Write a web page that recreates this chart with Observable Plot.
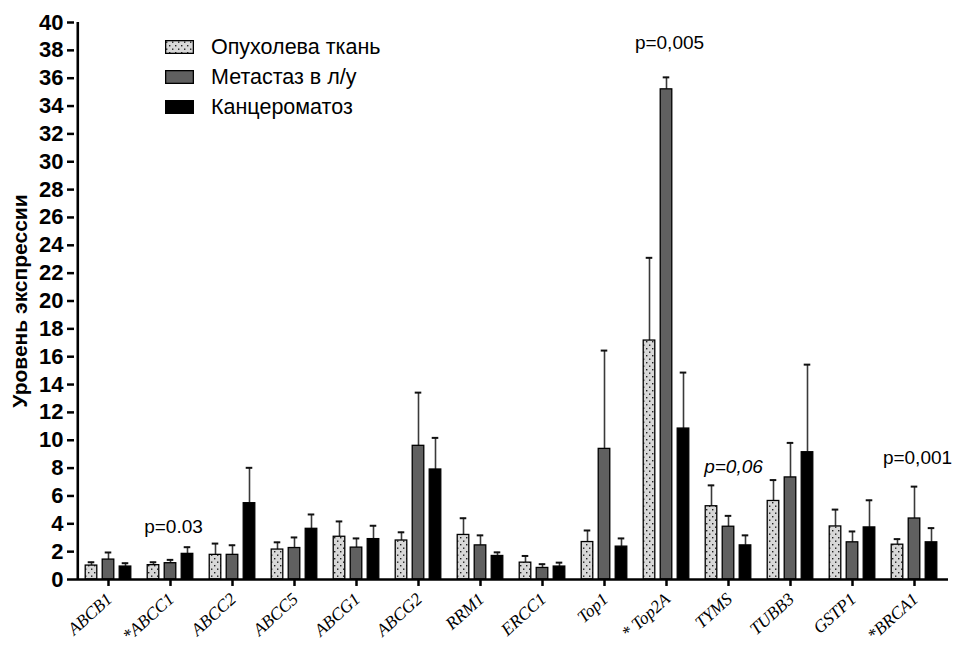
<!DOCTYPE html>
<html><head><meta charset="utf-8">
<script src="https://cdn.jsdelivr.net/npm/d3@7"></script>
<script src="https://cdn.jsdelivr.net/npm/@observablehq/plot@0.6"></script>
<style>
body{margin:0;background:#fff;}
#wrap{position:relative;width:954px;height:645px;overflow:hidden;}
#legend{position:absolute;left:165px;top:32px;font-family:Arial,"Liberation Sans",sans-serif;font-size:21.5px;color:#000;}
.row{display:flex;align-items:center;height:30px;}
.row svg{margin-right:17px;display:block;}
</style></head><body>
<div id="wrap"><div id="chart"></div><div id="legend"></div></div>
<script>
// ---- data ----
const genes = ["ABCB1","*ABCC1","ABCC2","ABCC5","ABCG1","ABCG2","RRM1","ERCC1","Top1","* Top2A","TYMS","TUBB3","GSTP1","*BRCA1"];
const seriesNames = ["Опухолева ткань","Метастаз в л/у","Канцероматоз"];
const tumorMean = [1.0,1.03,1.77,2.15,3.07,2.8,3.2,1.21,2.69,17.16,5.26,5.64,3.81,2.5];
const tumorErr  = [0.24,0.21,0.81,0.52,1.1,0.59,1.2,0.48,0.83,5.94,1.5,1.5,1.21,0.4];
const metMean   = [1.43,1.17,1.77,2.26,2.29,9.6,2.45,0.83,9.38,35.2,3.79,7.33,2.67,4.38];
const metErr    = [0.51,0.24,0.69,0.76,0.66,3.82,0.72,0.27,7.06,0.86,0.78,2.48,0.78,2.29];
const cancMean  = [0.93,1.84,5.48,3.64,2.9,7.9,1.69,0.93,2.36,10.84,2.45,9.14,3.74,2.67];
const cancErr   = [0.24,0.48,2.54,1.03,0.96,2.27,0.26,0.28,0.59,4.02,0.72,6.29,1.95,1.02];
const yTicks = d3.range(0, 41, 2);
const pLabels = ["p=0.03","p=0,005","p=0,06","p=0,001"];
const pGenes  = ["*ABCC1","* Top2A","TYMS","*BRCA1"];
const pValues = [3.8, 38.5, 8.1, 8.7];
const pItalic = [false, false, true, false];
const yLabel = "Уровень экспрессии";

// ---- styling ----
const fills = ["url(#dots)", "#606060", "#000000"];
const marginLeft = 74, marginRight = 6, width = 954;
const bw = (width - marginLeft - marginRight) / genes.length;
const offsets = [-17, 0, 17];
const barW = 12, capW = 7;
const sans = "Arial, 'Liberation Sans', sans-serif";
const serif = "'Liberation Serif', 'Times New Roman', serif";

const allMeans = [tumorMean, metMean, cancMean];
const allErrs = [tumorErr, metErr, cancErr];

const marks = [];
allMeans.forEach((means, k) => {
  const rows = genes.map((g, i) => ({gene: g, mean: means[i], top: means[i] + allErrs[k][i]}));
  const off = offsets[k];
  const il = bw / 2 + off - barW / 2;
  marks.push(Plot.ruleX(rows, {x: "gene", y1: "mean", y2: "top", dx: off, stroke: "#3a3a3a", strokeWidth: 1.6}));
  marks.push(Plot.tickY(rows, {x: "gene", y: "top", insetLeft: bw / 2 + off - capW / 2, insetRight: bw / 2 - off - capW / 2, stroke: "#111", strokeWidth: 2}));
  marks.push(Plot.barY(rows, {x: "gene", y: "mean", fill: fills[k], stroke: "#000", strokeWidth: 1.3, insetLeft: il, insetRight: bw - il - barW}));
});

const ann = pLabels.map((t, i) => ({t, gene: pGenes[i], y: pValues[i], it: pItalic[i]}));

const chart = Plot.plot({
  width, height: 645,
  marginLeft, marginRight, marginTop: 22, marginBottom: 66,
  style: {background: "white", color: "#000"},
  x: {type: "band", domain: genes, padding: 0, axis: null},
  y: {domain: [0, 40], axis: null},
  marks: [
    ...marks,
    // axis lines
    Plot.ruleY([0], {stroke: "#000", strokeWidth: 2.6}),
    Plot.ruleX([genes[0]], {x: d => d, y1: 0, y2: 40, dx: -bw / 2 + 0.5, stroke: "#000", strokeWidth: 2.6}),
    // y axis ticks and labels
    Plot.axisY(yTicks, {tickSize: 7, tickPadding: 4, fontSize: 22, fontWeight: "bold", fontFamily: sans, strokeWidth: 2.5, label: null}),
    // x axis ticks
    Plot.ruleX(genes, {x: d => d, y1: 0, y2: -0.5, stroke: "#000", strokeWidth: 2.5}),
    // x tick labels
    Plot.text(genes, {x: d => d, y: 0, dy: 17, dx: 1, rotate: -42, textAnchor: "end", lineAnchor: "middle", fontSize: 17.5, fontStyle: "italic", fontFamily: serif}),
    Plot.text([yLabel], {frameAnchor: "left", rotate: -90, dx: -54, textAnchor: "middle", fontSize: 21, fontWeight: "bold", fontFamily: sans}),
    Plot.text(ann.filter(d => !d.it), {x: "gene", y: "y", text: "t", dx: 3, fontSize: 19, fontFamily: sans}),
    Plot.text(ann.filter(d => d.it), {x: "gene", y: "y", text: "t", dx: 5, fontSize: 19, fontStyle: "italic", fontFamily: sans})
  ]
});

const ns = "http://www.w3.org/2000/svg";
function addPattern(svgEl) {
  const defs = document.createElementNS(ns, "defs");
  defs.innerHTML = '<pattern id="dots" width="6" height="7" patternUnits="userSpaceOnUse">' +
    '<rect width="6" height="7" fill="#d8d8d8"/>' +
    '<rect x="1" y="1.5" width="1.4" height="1.4" fill="#222"/>' +
    '<rect x="4" y="5" width="1.4" height="1.4" fill="#222"/></pattern>';
  svgEl.insertBefore(defs, svgEl.firstChild);
}
addPattern(chart);
document.getElementById("chart").appendChild(chart);

// legend
const legend = d3.select("#legend");
seriesNames.forEach((name, k) => {
  const row = legend.append("div").attr("class", "row");
  const sw = row.append("svg").attr("width", 29).attr("height", 14);
  sw.append("rect").attr("x", 0.65).attr("y", 0.65).attr("width", 27.7).attr("height", 12.7)
    .attr("fill", fills[k]).attr("stroke", "#000").attr("stroke-width", 1.3);
  row.append("span").text(name);
});
</script>
</body></html>
